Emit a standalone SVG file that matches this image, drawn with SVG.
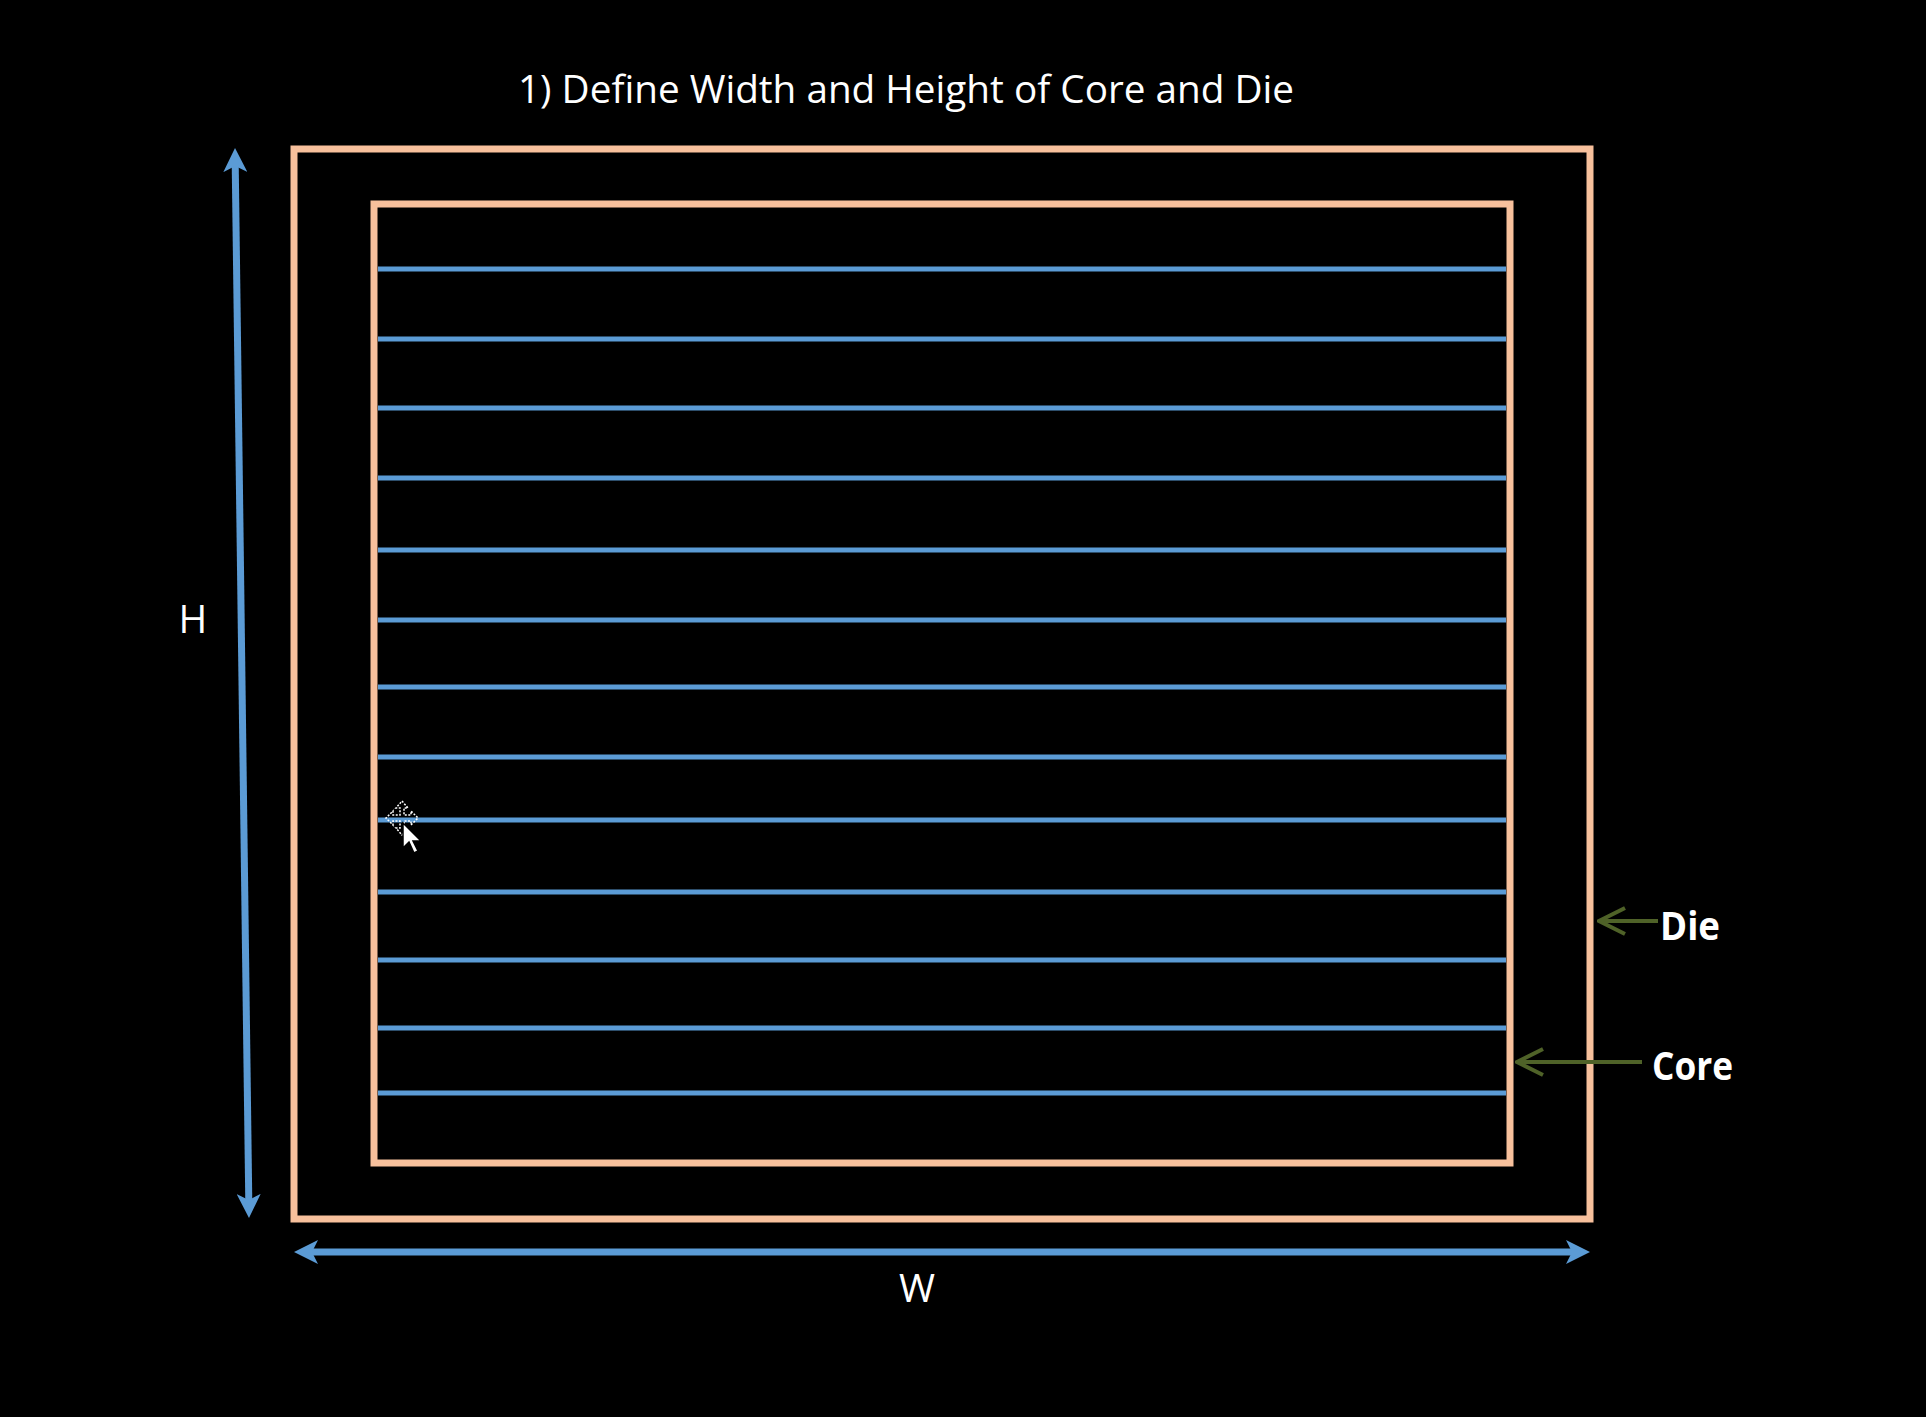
<svg xmlns="http://www.w3.org/2000/svg" width="1926" height="1417" viewBox="0 0 1926 1417">
  <defs>
    <style>
      .bg { fill: #000000; }
      .box { fill: none; stroke: #f7c09c; stroke-width: 7; }
      .row { stroke: #5b9bd5; stroke-width: 5; fill: none; }
      .dim { stroke: #5b9bd5; stroke-width: 7; fill: none; }
      .ptr { stroke: #4f6228; stroke-width: 4; fill: none; }
      .t { font-family: "Open Sans", "Liberation Sans", sans-serif; fill: #ffffff; }
      .title { font-size: 39px; }
      .lab { font-size: 39px; }
      .bold { font-size: 39px; font-weight: bold; }
    </style>
    <marker id="blueHead" markerUnits="userSpaceOnUse" viewBox="0 0 24 24" markerWidth="24" markerHeight="24" refX="6" refY="12" orient="auto-start-reverse">
      <path d="M24,12 L0,0 L6,12 L0,24 Z" fill="#5b9bd5"/>
    </marker>
    <marker id="greenHead" markerUnits="userSpaceOnUse" viewBox="0 0 30 30" markerWidth="30" markerHeight="30" refX="28" refY="15" orient="auto">
      <path d="M2,2 L28,15 L2,28" fill="none" stroke="#4f6228" stroke-width="4"/>
    </marker>
  </defs>

  <rect class="bg" x="0" y="0" width="1926" height="1417"/>

  <g id="title">
    <text class="t title" x="518" y="103" textLength="776" lengthAdjust="spacingAndGlyphs">1) Define Width and Height of Core and Die</text>
  </g>

  <g id="die">
    <rect class="box" x="294" y="149" width="1296" height="1070"/>
  </g>

  <g id="core">
    <rect class="box" x="374" y="204" width="1136" height="959"/>
    <g id="rows">
      <line class="row" x1="378" y1="269" x2="1506" y2="269"/>
      <line class="row" x1="378" y1="339" x2="1506" y2="339"/>
      <line class="row" x1="378" y1="408" x2="1506" y2="408"/>
      <line class="row" x1="378" y1="478" x2="1506" y2="478"/>
      <line class="row" x1="378" y1="550" x2="1506" y2="550"/>
      <line class="row" x1="378" y1="620" x2="1506" y2="620"/>
      <line class="row" x1="378" y1="687" x2="1506" y2="687"/>
      <line class="row" x1="378" y1="757" x2="1506" y2="757"/>
      <line class="row" x1="378" y1="820" x2="1506" y2="820"/>
      <line class="row" x1="378" y1="892" x2="1506" y2="892"/>
      <line class="row" x1="378" y1="960" x2="1506" y2="960"/>
      <line class="row" x1="378" y1="1028" x2="1506" y2="1028"/>
      <line class="row" x1="378" y1="1093" x2="1506" y2="1093"/>
    </g>
  </g>

  <g id="connectors">
    <line class="dim" x1="235.24" y1="166" x2="248.76" y2="1200" marker-start="url(#blueHead)" marker-end="url(#blueHead)"/>
    <line class="dim" x1="312" y1="1252" x2="1572" y2="1252" marker-start="url(#blueHead)" marker-end="url(#blueHead)"/>
    <line class="ptr" x1="1658" y1="921" x2="1599" y2="921" marker-end="url(#greenHead)"/>
    <line class="ptr" x1="1642" y1="1062" x2="1517" y2="1062" marker-end="url(#greenHead)"/>
  </g>

  <g id="label-h">
    <text class="t lab" x="193" y="633" text-anchor="middle">H</text>
  </g>
  <g id="label-w">
    <text class="t lab" x="917" y="1302" text-anchor="middle">W</text>
  </g>
  <g id="label-die">
    <text class="t bold" x="1660" y="940" textLength="60" lengthAdjust="spacingAndGlyphs">Die</text>
  </g>
  <g id="label-core">
    <text class="t bold" x="1652" y="1080" textLength="81" lengthAdjust="spacingAndGlyphs">Core</text>
  </g>

  <g id="cursor">
    <path d="M402,801 L408,808 L404,808 L404,815 L411,815 L411,811 L418,818 L411,825 L411,821 L404,821 L404,828 L408,828 L402,835 L396,828 L400,828 L400,821 L393,821 L393,825 L386,818 L393,811 L393,815 L400,815 L400,808 L396,808 Z" fill="none" stroke="#ffffff" stroke-width="1.5" stroke-dasharray="2 1.5"/>
    <path d="M403,823 L403,848 L409,842 L414,853 L418,851 L413,841 L421,841 Z" fill="#ffffff" stroke="#000000" stroke-width="1.5"/>
  </g>
</svg>
